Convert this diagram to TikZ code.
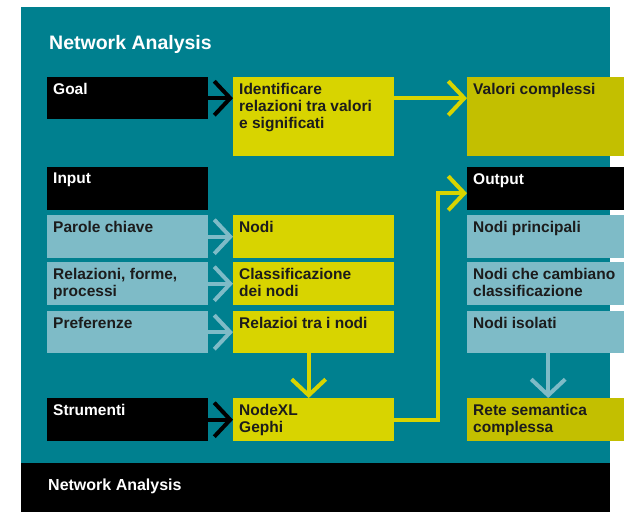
\documentclass[tikz,border=0pt]{standalone}
\usepackage{fontspec}
\setmainfont{Liberation Sans}
\usetikzlibrary{arrows.meta}

\definecolor{naTeal}{RGB}{0,128,143}
\definecolor{naBlue}{RGB}{126,187,199}
\definecolor{naYellow}{RGB}{216,212,0}
\definecolor{naOlive}{RGB}{195,191,0}
\definecolor{naInk}{RGB}{28,28,28}

% fixed-size text block, text set from the top-left corner
\newcommand{\cellbody}[3]{\parbox[c][#2][t]{#1}{\raggedright #3}}

\tikzset{
  cell/.style={anchor=north west, inner sep=6pt, text=naInk,
    font=\bfseries\fontsize{15.5}{17}\selectfont},
  blackcell/.style={cell, fill=black, text=white},
  yellowcell/.style={cell, fill=naYellow},
  olivecell/.style={cell, fill=naOlive},
  bluecell/.style={cell, fill=naBlue},
  link/.style={line width=4pt, -{Straight Barb[length=16pt,width=34pt]}},
}

\begin{document}
\begin{tikzpicture}[x=1pt, y=-1pt]
\useasboundingbox (0,0) rectangle (624,512);

% panel and footer band
\fill[naTeal] (21,7) rectangle (610,463);
\fill[black] (21,463) rectangle (610,512);

\node[anchor=base west, inner sep=0, text=white,
      font=\bfseries\fontsize{19.5}{22}\selectfont] (title) at (49,49) {Network Analysis};
\node[anchor=base west, inner sep=0, text=white,
      font=\bfseries\fontsize{16}{18}\selectfont] (footer) at (48,490) {Network Analysis};

% goal row
\node[blackcell]  (goal)   at (47,77)  {\cellbody{149pt}{30pt}{Goal}};
\node[yellowcell] (ident)  at (233,77) {\cellbody{149pt}{67pt}{Identificare\\relazioni tra valori\\e significati}};
\node[olivecell]  (valori) at (467,77) {\cellbody{145pt}{67pt}{Valori complessi}};

% input column
\node[blackcell] (input)    at (47,167) {\cellbody{149pt}{31pt}{Input}};
\node[bluecell]  (parole)   at (47,215) {\cellbody{149pt}{31pt}{Parole chiave}};
\node[bluecell]  (relforme) at (47,262) {\cellbody{149pt}{31pt}{Relazioni, forme,\\processi}};
\node[bluecell]  (pref)     at (47,311) {\cellbody{149pt}{30pt}{Preferenze}};

% processing column
\node[yellowcell] (nodi)    at (233,215) {\cellbody{149pt}{31pt}{Nodi}};
\node[yellowcell] (classif) at (233,262) {\cellbody{149pt}{31pt}{Classificazione\\dei nodi}};
\node[yellowcell] (relnodi) at (233,311) {\cellbody{149pt}{30pt}{Relazioi tra i nodi}};

% output column
\node[blackcell] (output)     at (467,167) {\cellbody{145pt}{31pt}{Output}};
\node[bluecell]  (principali) at (467,215) {\cellbody{145pt}{31pt}{Nodi principali}};
\node[bluecell]  (cambiano)   at (467,262) {\cellbody{145pt}{31pt}{Nodi che cambiano\\classificazione}};
\node[bluecell]  (isolati)    at (467,311) {\cellbody{145pt}{30pt}{Nodi isolati}};

% tools row
\node[blackcell]  (strumenti) at (47,398)  {\cellbody{149pt}{31pt}{Strumenti}};
\node[yellowcell] (nodexl)    at (233,398) {\cellbody{149pt}{31pt}{NodeXL\\Gephi}};
\node[olivecell]  (rete)      at (467,398) {\cellbody{145pt}{31pt}{Rete semantica\\complessa}};

% connectors
\draw[link, draw=black]    (goal.east) -- (goal.east -| ident.west);
\draw[link, draw=naYellow] (goal.east -| ident.east) -- (goal.east -| valori.west);
\draw[link, draw=naBlue]   (parole.east) -- (nodi.west);
\draw[link, draw=naBlue]   (relforme.east) -- (classif.west);
\draw[link, draw=naBlue]   (pref.east) -- (relnodi.west);
\draw[link, draw=black]    (strumenti.east) -- (nodexl.west);
\draw[link, draw=naYellow] ([xshift=-5pt]relnodi.south) -- ([xshift=-5pt]relnodi.south |- nodexl.north);
\draw[link, draw=naBlue]   ([xshift=2.5pt]isolati.south) -- ([xshift=2.5pt]isolati.south |- rete.north);
\draw[link, draw=naYellow] (nodexl.east) -- ++(44,0) |- ([yshift=-4.5pt]output.west);
\end{tikzpicture}
\end{document}
